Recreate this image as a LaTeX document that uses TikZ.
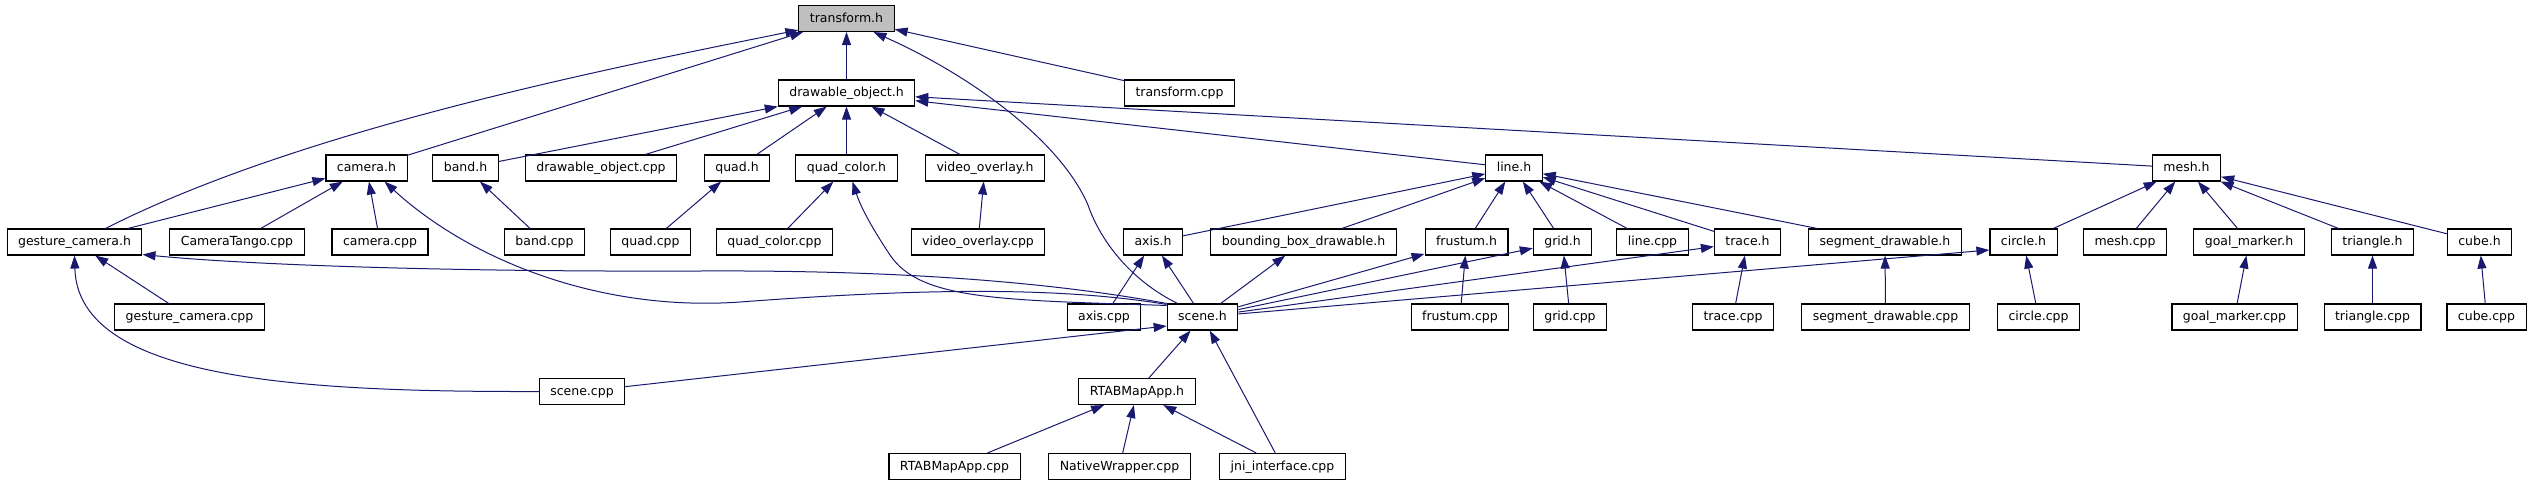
\documentclass[tikz,border=0pt]{standalone}
\usepackage{fontspec}
\setmainfont{DejaVu Sans}
\usetikzlibrary{arrows.meta}
\definecolor{edgeblue}{HTML}{191970}
\definecolor{rootgray}{HTML}{BFBFBF}

\tikzset{
  file/.style={draw=black, line width=1.1pt, fill=white, minimum height=26pt,
    inner xsep=11pt, inner ysep=0pt, text height=10pt, text depth=3pt,
    font=\fontsize{12.5}{15}\selectfont},
  root/.style={file, fill=rootgray},
  dep/.style={draw=edgeblue, line width=1pt, -{Triangle[length=13pt,width=9pt]}}
}

\begin{document}
\begin{tikzpicture}[x=1pt, y=-1pt]
    \fill[white] (0,0) rectangle (2532,485);
    \useasboundingbox (0,0) rectangle (2532,485);
    % row 0 and 1
    \node[root] (transformh) at (846.5,18.5) {transform.h};
    \node[file] (drawobjh) at (846.5,93) {drawable\_object.h};
    \node[file] (transformcpp) at (1179.5,93) {transform.cpp};
    % row 2
    \node[file] (camerah) at (366.5,168) {camera.h};
    \node[file] (bandh) at (465.5,168) {band.h};
    \node[file] (drawobjcpp) at (601,168) {drawable\_object.cpp};
    \node[file] (quadh) at (737,168) {quad.h};
    \node[file] (quadcolorh) at (846.5,168) {quad\_color.h};
    \node[file] (videooverlayh) at (985,168) {video\_overlay.h};
    \node[file] (lineh) at (1514,168) {line.h};
    \node[file] (meshh) at (2186.5,168) {mesh.h};
    % row 3
    \node[file] (gesturecamh) at (74.5,242) {gesture\_camera.h};
    \node[file] (cameratangocpp) at (237,242) {CameraTango.cpp};
    \node[file] (cameracpp) at (380,242) {camera.cpp};
    \node[file] (bandcpp) at (544.5,242) {band.cpp};
    \node[file] (quadcpp) at (650.5,242) {quad.cpp};
    \node[file] (quadcolorcpp) at (774.5,242) {quad\_color.cpp};
    \node[file] (videooverlaycpp) at (978,242) {video\_overlay.cpp};
    \node[file] (axish) at (1153,242) {axis.h};
    \node[file] (bboxh) at (1303.5,242) {bounding\_box\_drawable.h};
    \node[file] (frustumh) at (1466.5,242) {frustum.h};
    \node[file] (gridh) at (1562.5,242) {grid.h};
    \node[file] (linecpp) at (1652.5,242) {line.cpp};
    \node[file] (traceh) at (1747.5,242) {trace.h};
    \node[file] (segmenth) at (1885,242) {segment\_drawable.h};
    \node[file] (circleh) at (2023.5,242) {circle.h};
    \node[file] (meshcpp) at (2125,242) {mesh.cpp};
    \node[file] (goalmarkerh) at (2249,242) {goal\_marker.h};
    \node[file] (triangleh) at (2372.5,242) {triangle.h};
    \node[file] (cubeh) at (2479.5,242) {cube.h};
    % row 4
    \node[file] (gesturecamcpp) at (189.5,317) {gesture\_camera.cpp};
    \node[file] (axiscpp) at (1104,317) {axis.cpp};
    \node[file] (sceneh) at (1202.5,317) {scene.h};
    \node[file] (frustumcpp) at (1460,317) {frustum.cpp};
    \node[file] (gridcpp) at (1570,317) {grid.cpp};
    \node[file] (tracecpp) at (1733,317) {trace.cpp};
    \node[file] (segmentcpp) at (1885.5,317) {segment\_drawable.cpp};
    \node[file] (circlecpp) at (2038.5,317) {circle.cpp};
    \node[file] (goalmarkercpp) at (2234.5,317) {goal\_marker.cpp};
    \node[file] (trianglecpp) at (2372.5,317) {triangle.cpp};
    \node[file] (cubecpp) at (2486.5,317) {cube.cpp};
    % rows 5 and 6
    \node[file] (scenecpp) at (582,391.5) {scene.cpp};
    \node[file] (rtabmapapph) at (1137,391.5) {RTABMapApp.h};
    \node[file] (rtabmapappcpp) at (954.5,466.5) {RTABMapApp.cpp};
    \node[file] (nativewrappercpp) at (1119.5,466.5) {NativeWrapper.cpp};
    \node[file] (jnicpp) at (1282.5,466.5) {jni\_interface.cpp};

    % includes of transform.h
    \draw[dep] (drawobjh) -- (transformh);
    \draw[dep] (camerah) -- (transformh);
    \draw[dep] (transformcpp) -- (transformh);
    \draw[dep] ([xshift=31pt]gesturecamh.north) .. controls (300,130) and (600,70) .. ([yshift=2pt]transformh.south west);
    \draw[dep] ([xshift=-25pt]sceneh.north) .. controls (1130,280) and (1100,240) .. (1088,205)
        .. controls (1060,140) and (970,75) .. ([xshift=27pt]transformh.south);
    % includes of drawable_object.h
    \draw[dep] (bandh) -- (drawobjh);
    \draw[dep] (drawobjcpp) -- (drawobjh);
    \draw[dep] (quadh) -- (drawobjh);
    \draw[dep] (quadcolorh) -- (drawobjh);
    \draw[dep] (videooverlayh) -- (drawobjh);
    \draw[dep] (lineh) -- (drawobjh);
    \draw[dep] (meshh) -- (drawobjh);
    % camera.h
    \draw[dep] (gesturecamh) -- (camerah);
    \draw[dep] (cameratangocpp) -- (camerah);
    \draw[dep] (cameracpp) -- (camerah);
    \draw[dep] ([yshift=-1pt]sceneh.north west) .. controls (1050,285) and (900,290) .. (740,302)
        .. controls (600,312) and (470,260) .. ([xshift=18pt]camerah.south);
    % band.h, quad.h, quad_color.h, video_overlay.h
    \draw[dep] (bandcpp) -- (bandh);
    \draw[dep] (quadcpp) -- (quadh);
    \draw[dep] (quadcolorcpp) -- (quadcolorh);
    \draw[dep] ([yshift=-2pt]sceneh.north west) .. controls (1000,300) and (920,300) .. (890,255)
        .. controls (870,225) and (860,205) .. ([xshift=6pt]quadcolorh.south);
    \draw[dep] (videooverlaycpp) -- (videooverlayh);
    % line.h
    \draw[dep] (axish) -- (lineh);
    \draw[dep] (bboxh) -- (lineh);
    \draw[dep] (frustumh) -- (lineh);
    \draw[dep] (gridh) -- (lineh);
    \draw[dep] (linecpp) -- (lineh);
    \draw[dep] (traceh) -- (lineh);
    \draw[dep] (segmenth) -- (lineh);
    % mesh.h
    \draw[dep] (circleh) -- (meshh);
    \draw[dep] (meshcpp) -- (meshh);
    \draw[dep] (goalmarkerh) -- (meshh);
    \draw[dep] (triangleh) -- (meshh);
    \draw[dep] (cubeh) -- (meshh);
    % gesture_camera.h
    \draw[dep] (gesturecamcpp) -- (gesturecamh);
    \draw[dep] (sceneh.north west) .. controls (1050,282) and (900,270) .. (700,271)
        .. controls (450,272) and (250,265) .. ([yshift=1pt]gesturecamh.south east);
    \draw[dep] (scenecpp.west) .. controls (300,392) and (78,380) .. (gesturecamh.south);
    % row 3 headers used by scene.h
    \draw[dep] (axiscpp) -- (axish);
    \draw[dep] (sceneh) -- (axish);
    \draw[dep] (sceneh) -- (bboxh);
    \draw[dep] (sceneh) -- (frustumh);
    \draw[dep] (sceneh) -- (gridh);
    \draw[dep] (sceneh) -- (traceh);
    \draw[dep] (sceneh) -- ([yshift=-8pt]circleh.west);
    \draw[dep] (frustumcpp) -- (frustumh);
    \draw[dep] (gridcpp) -- (gridh);
    \draw[dep] (tracecpp) -- (traceh);
    \draw[dep] (segmentcpp) -- (segmenth);
    \draw[dep] (circlecpp) -- (circleh);
    \draw[dep] (goalmarkercpp) -- (goalmarkerh);
    \draw[dep] (trianglecpp) -- (triangleh);
    \draw[dep] (cubecpp) -- (cubeh);
    % scene.h and RTABMapApp.h
    \draw[dep] (scenecpp) -- ([yshift=-9pt]sceneh.west);
    \draw[dep] (rtabmapapph) -- (sceneh);
    \draw[dep] (jnicpp) -- (sceneh);
    \draw[dep] (rtabmapappcpp) -- (rtabmapapph);
    \draw[dep] (nativewrappercpp) -- (rtabmapapph);
    \draw[dep] (jnicpp) -- (rtabmapapph);
\end{tikzpicture}
\end{document}
